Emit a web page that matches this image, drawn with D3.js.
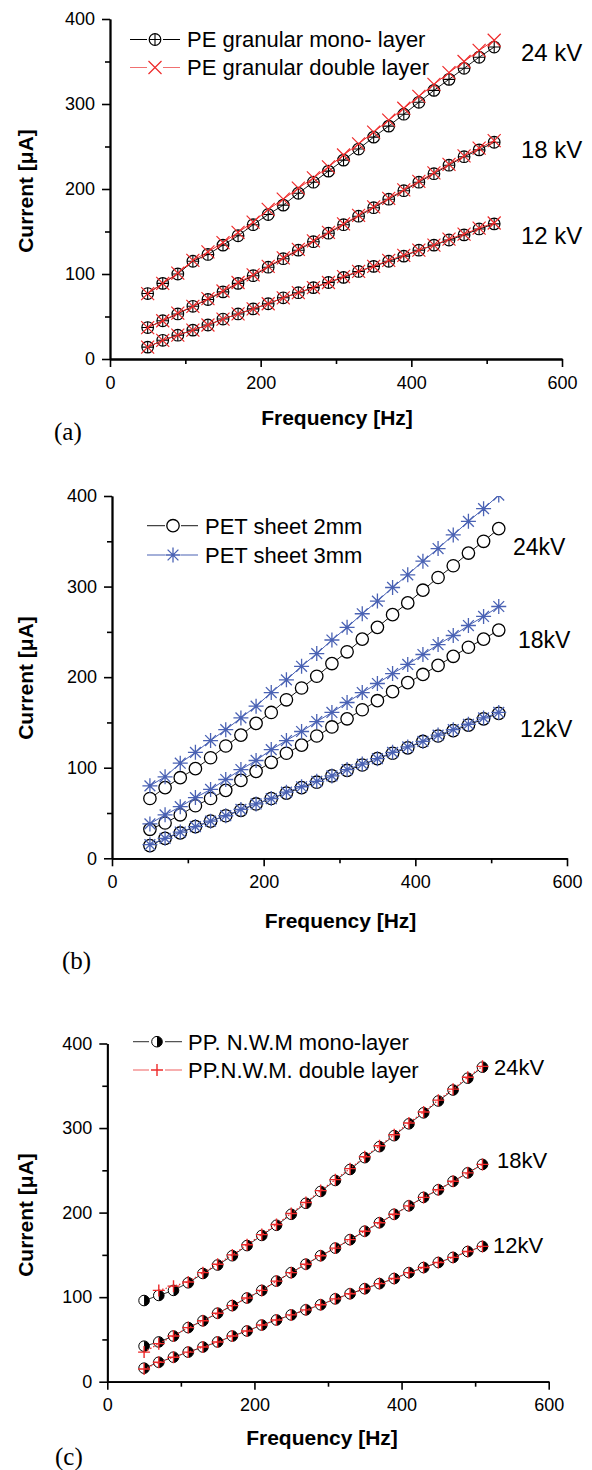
<!DOCTYPE html>
<html>
<head>
<meta charset="utf-8">
<script src="https://cdn.jsdelivr.net/npm/d3@7"></script>
<style>
  body { margin: 0; background: #fff; }
  svg { display: block; font-family: "Liberation Sans", Arial, sans-serif; }
</style>
</head>
<body>
<div id="chart"></div>
<script>
// frequency points (Hz), shared by every series
var freq = [50, 70, 90, 110, 130, 150, 170, 190, 210, 230, 250, 270,
            290, 310, 330, 350, 370, 390, 410, 430, 450, 470, 490, 510];

var xMajor = [0, 200, 400, 600], xMinor = [100, 300, 500];
var yMajor = [0, 100, 200, 300, 400], yMinor = [50, 150, 250, 350];
var voltages = ["24", "18", "12"];

// (a) PE granular
var peMono24 = [77, 89, 100, 115, 123, 134, 145, 158, 170, 181, 195, 208, 221, 234, 247, 261, 274, 288, 302, 316, 329, 342, 355, 367];
var peMono18 = [37, 45, 53, 62, 70, 79, 89, 98, 108, 118, 128, 138, 148, 158, 168, 178, 188, 198, 208, 218, 228, 238, 246, 255];
var peMono12 = [14, 22, 28, 34, 40, 47, 53, 59, 65, 72, 78, 84, 90, 96, 103, 109, 115, 121, 128, 134, 140, 146, 153, 159];
var peDouble24 = [77, 89, 101, 116, 126, 137, 149, 161, 176, 188, 201, 213, 226, 240, 253, 267, 281, 295, 309, 323, 337, 350, 363, 375];
var peDouble18 = [37, 45, 54, 62, 71, 80, 90, 99, 109, 119, 129, 139, 149, 159, 169, 179, 189, 199, 209, 219, 229, 239, 248, 257];
var peDouble12 = [14, 22, 28, 34, 40, 47, 53, 59, 65, 72, 78, 84, 90, 97, 103, 109, 116, 122, 128, 134, 141, 147, 154, 160];

// (b) PET sheet
var pet2mm24 = [66, 78, 89, 99, 111, 124, 136, 149, 161, 175, 188, 201, 215, 228, 242, 255, 269, 282, 296, 310, 323, 337, 350, 364];
var pet2mm18 = [32, 39, 48, 58, 66, 75, 86, 96, 106, 116, 125, 135, 145, 154, 164, 174, 184, 194, 203, 213, 223, 233, 242, 252];
var pet2mm12 = [14, 22, 28, 35, 41, 47, 53, 60, 66, 72, 78, 84, 91, 97, 103, 110, 116, 122, 129, 135, 141, 147, 154, 160];
var pet3mm24 = [80, 90, 105, 117, 130, 142, 155, 168, 183, 197, 212, 226, 241, 255, 270, 284, 299, 313, 328, 342, 357, 372, 386, 401];
var pet3mm18 = [38, 48, 57, 67, 76, 87, 98, 108, 120, 130, 140, 151, 161, 172, 183, 193, 204, 214, 225, 236, 246, 257, 267, 278];
var pet3mm12 = [15, 22, 29, 35, 41, 47, 54, 60, 66, 73, 79, 85, 91, 98, 104, 110, 117, 123, 129, 136, 142, 148, 155, 161];

// (c) PP N.W.M
var ppMono24 = [96, 102, 108, 117, 128, 138, 149, 161, 173, 185, 198, 211, 225, 238, 251, 265, 278, 291, 305, 318, 332, 345, 359, 372];
var ppMono18 = [42, 47, 54, 64, 72, 81, 90, 99, 108, 119, 129, 139, 149, 158, 168, 178, 188, 198, 208, 218, 227, 237, 247, 257];
var ppMono12 = [16, 23, 29, 35, 41, 47, 54, 60, 67, 73, 79, 85, 91, 98, 104, 110, 116, 122, 129, 135, 141, 147, 154, 160];
var ppDouble24 = [null, 108, 113, 118, 129, 139, 150, 162, 174, 186, 199, 212, 226, 239, 252, 266, 279, 292, 306, 319, 333, 346, 360, 373];
var ppDouble18 = [35, 45, 54, 64, 72, 81, 90, 99, 108, 119, 129, 139, 149, 158, 168, 178, 188, 198, 208, 218, 227, 237, 247, 257];
var ppDouble12 = [15, 23, 29, 35, 41, 47, 54, 60, 67, 73, 79, 85, 91, 98, 104, 110, 116, 122, 129, 135, 141, 147, 154, 160];

var RED = "#ee2a2a", BLUE = "#4a62b4";
var FONT = "'Liberation Sans', Arial, sans-serif";

var svg = d3.select("#chart").append("svg")
  .attr("width", 592).attr("height", 1470);

// ---------- marker shapes ----------
function mCirclePlus(g, cx, cy) {
  var r = 5.8;
  g.append("circle").attr("cx", cx).attr("cy", cy).attr("r", r)
    .attr("fill", "none").attr("stroke", "#000").attr("stroke-width", 1.2);
  g.append("path").attr("d", "M" + (cx - r) + "," + cy + "H" + (cx + r) + "M" + cx + "," + (cy - r) + "V" + (cy + r))
    .attr("stroke", "#000").attr("stroke-width", 1.1);
}
function mCross(g, cx, cy, color) {
  var s = 6.5;
  g.append("path").attr("d", "M" + (cx - s) + "," + (cy - s) + "L" + (cx + s) + "," + (cy + s) +
      "M" + (cx - s) + "," + (cy + s) + "L" + (cx + s) + "," + (cy - s))
    .attr("stroke", color).attr("stroke-width", 1.2);
}
function mOpenCircle(g, cx, cy) {
  g.append("circle").attr("cx", cx).attr("cy", cy).attr("r", 6.2)
    .attr("fill", "#fff").attr("stroke", "#000").attr("stroke-width", 1.3);
}
function mStar(g, cx, cy, color) {
  var s = 7.5, d = s * 0.72;
  g.append("path").attr("d", "M" + (cx - s) + "," + cy + "H" + (cx + s) + "M" + cx + "," + (cy - s) + "V" + (cy + s) +
      "M" + (cx - d) + "," + (cy - d) + "L" + (cx + d) + "," + (cy + d) +
      "M" + (cx - d) + "," + (cy + d) + "L" + (cx + d) + "," + (cy - d))
    .attr("stroke", color).attr("stroke-width", 1.3);
}
function mHalfCircle(g, cx, cy) {
  var r = 5.3;
  g.append("circle").attr("cx", cx).attr("cy", cy).attr("r", r)
    .attr("fill", "#fff").attr("stroke", "#000").attr("stroke-width", 1);
  g.append("path").attr("d", "M" + cx + "," + (cy - r) + "A" + r + "," + r + " 0 0 1 " + cx + "," + (cy + r) + "Z")
    .attr("fill", "#000");
}
function mPlus(g, cx, cy, color) {
  var s = 6;
  g.append("path").attr("d", "M" + (cx - s) + "," + cy + "H" + (cx + s) + "M" + cx + "," + (cy - s) + "V" + (cy + s))
    .attr("stroke", color).attr("stroke-width", 1.4);
}

// ---------- one panel ----------
function drawPanel(p, idx) {
  var x = d3.scaleLinear().domain([0, 600]).range([p.left, p.right]);
  var y = d3.scaleLinear().domain([0, 400]).range([p.bottom, p.top]);

  var g = svg.append("g");

  g.append("clipPath").attr("id", "clip" + idx)
    .append("rect")
    .attr("x", x(0)).attr("y", y(400))
    .attr("width", x(600) - x(0)).attr("height", y(0) - y(400));

  var plot = g.append("g").attr("clip-path", "url(#clip" + idx + ")");

  p.series.forEach(function (s) {
    s.groups.forEach(function (vals) {
      var pts = freq.map(function (f, i) { return [f, vals[i]]; });
      var line = d3.line()
        .defined(function (d) { return d[1] != null; })
        .x(function (d) { return x(d[0]); })
        .y(function (d) { return y(d[1]); });
      plot.append("path").datum(pts).attr("d", line)
        .attr("fill", "none").attr("stroke", s.lineColor)
        .attr("stroke-width", s.lineWidth)
        .attr("stroke-dasharray", s.dash || null);
      pts.forEach(function (d) {
        if (d[1] == null) return;
        s.marker(plot, x(d[0]), y(d[1]), s.color);
      });
    });
  });

  // axes
  function styleAxis(sel) {
    sel.attr("font-family", FONT);
    sel.select(".domain").attr("stroke", "#000").attr("stroke-width", 1.8);
    sel.selectAll(".tick line").attr("stroke", "#000").attr("stroke-width", 1.6);
    sel.selectAll(".tick text").attr("fill", "#000").style("font-size", "18px")
      .style("font-family", FONT);
  }

  g.append("g").attr("transform", "translate(0," + y(0) + ")")
    .call(d3.axisBottom(x).tickValues(xMinor).tickSize(5).tickSizeOuter(0).tickFormat(""))
    .call(styleAxis);
  g.append("g").attr("transform", "translate(0," + y(0) + ")")
    .call(d3.axisBottom(x).tickValues(xMajor).tickSize(8).tickSizeOuter(0).tickPadding(9))
    .call(styleAxis);
  g.append("g").attr("transform", "translate(" + x(0) + ",0)")
    .call(d3.axisLeft(y).tickValues(yMinor).tickSize(5).tickSizeOuter(0).tickFormat(""))
    .call(styleAxis);
  g.append("g").attr("transform", "translate(" + x(0) + ",0)")
    .call(d3.axisLeft(y).tickValues(yMajor).tickSize(8).tickSizeOuter(0).tickPadding(7))
    .call(styleAxis);

  // axis titles
  g.append("text")
    .attr("x", (x(0) + x(600)) / 2 + p.xTitleShift).attr("y", y(0) + p.xTitleGap)
    .attr("text-anchor", "middle").attr("dy", "0.35em")
    .style("font-size", "21px").style("font-weight", "bold")
    .text("Frequency [Hz]");
  g.append("text")
    .attr("transform", "translate(26," + p.yTitleCenter + ") rotate(-90)")
    .attr("text-anchor", "middle").attr("dy", "0.35em")
    .style("font-size", "21px").style("font-weight", "bold")
    .text("Current [\u03bcA]");

  // panel tag
  g.append("text")
    .attr("x", p.tag[0]).attr("y", p.tag[1]).attr("dy", "0.35em")
    .style("font-family", "'Times New Roman', 'Liberation Serif', serif")
    .style("font-size", "25px")
    .text(p.tagText);

  // voltage labels
  p.kv.forEach(function (k, i) {
    g.append("text")
      .attr("x", k[0]).attr("y", k[1]).attr("dy", "0.36em")
      .style("font-size", p.kvSize + "px")
      .text(voltages[i] + p.kvSep + "kV");
  });

  // legend
  p.series.forEach(function (s, i) {
    var ly = p.legend.y[i];
    var lg = g.append("g");
    lg.append("path")
      .attr("d", "M" + p.legend.x1 + "," + ly + "H" + (p.legend.xm - 8) +
        "M" + (p.legend.xm + 8) + "," + ly + "H" + p.legend.x2)
      .attr("stroke", s.legendLine).attr("stroke-width", 1.2);
    s.marker(lg, p.legend.xm, ly, s.color);
    lg.append("text")
      .attr("x", p.legend.tx).attr("y", ly).attr("dy", "0.36em")
      .style("font-size", "22px")
      .text(s.name);
  });
}

var panels = [
  {
    left: 110, right: 562, top: 19, bottom: 359,
    xTitleGap: 59, xTitleShift: 1, yTitleCenter: 191,
    tag: [54, 431], tagText: "(a)",
    kv: [[521, 52], [521, 149], [521, 235]], kvSep: " ", kvSize: 24,
    legend: { x1: 130, x2: 180, xm: 155, tx: 187, y: [39.5, 67.5] },
    series: [
      { name: "PE granular mono- layer", groups: [peMono24, peMono18, peMono12],
        marker: mCirclePlus, color: "#000", lineColor: "#000", lineWidth: 0.9, legendLine: "#000" },
      { name: "PE granular double layer", groups: [peDouble24, peDouble18, peDouble12],
        marker: mCross, color: RED, lineColor: RED, lineWidth: 1, legendLine: "#f07070" }
    ]
  },
  {
    left: 112, right: 567, top: 496, bottom: 858.3,
    xTitleGap: 62, xTitleShift: 1, yTitleCenter: 678,
    tag: [62, 960], tagText: "(b)",
    kv: [[513, 547], [518, 640], [520, 729]], kvSep: "", kvSize: 23,
    legend: { x1: 147, x2: 198, xm: 173, tx: 205, y: [525.7, 555] },
    series: [
      { name: "PET sheet 2mm", groups: [pet2mm24, pet2mm18, pet2mm12],
        marker: mOpenCircle, color: "#000", lineColor: "#000", lineWidth: 0.9, legendLine: "#444" },
      { name: "PET sheet 3mm", groups: [pet3mm24, pet3mm18, pet3mm12],
        marker: mStar, color: BLUE, lineColor: BLUE, lineWidth: 1, legendLine: BLUE }
    ]
  },
  {
    left: 107.3, right: 548.7, top: 1043.5, bottom: 1381.7,
    xTitleGap: 56, xTitleShift: -6, yTitleCenter: 1215,
    tag: [55, 1456], tagText: "(c)",
    kv: [[494, 1067], [497, 1160], [493, 1245]], kvSep: "", kvSize: 22,
    legend: { x1: 133, x2: 182, xm: 157, tx: 188, y: [1041.7, 1070] },
    series: [
      { name: "PP. N.W.M mono-layer", groups: [ppMono24, ppMono18, ppMono12],
        marker: mHalfCircle, color: "#000", lineColor: "#000", lineWidth: 0.8, legendLine: "#555" },
      { name: "PP.N.W.M. double layer", groups: [ppDouble24, ppDouble18, ppDouble12],
        marker: mPlus, color: RED, lineColor: RED, lineWidth: 1.2, dash: "1.5,2", legendLine: "#f06060" }
    ]
  }
];

panels.forEach(drawPanel);
</script>
</body>
</html>
